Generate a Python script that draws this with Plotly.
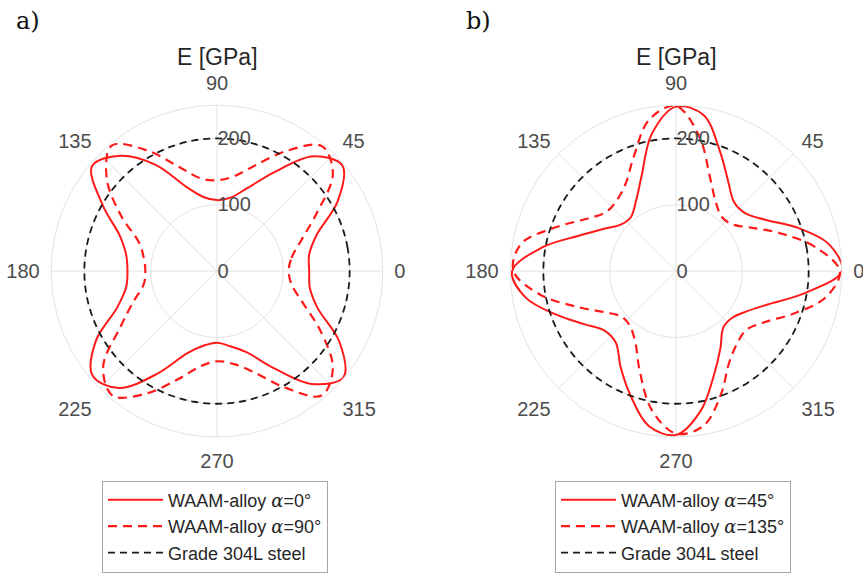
import plotly.graph_objects as go

# Angles (degrees) at which the moduli were read
theta = [0, 10, 20, 30, 40, 50, 60, 70, 80, 90, 100, 110, 120, 130, 140, 150, 160, 170, 180,
         190, 200, 210, 220, 230, 240, 250, 260, 270, 280, 290, 300, 310, 320, 330, 340, 350, 360]

# Panel a) E [GPa]
E_a_alpha0 = [139, 141, 160, 210, 247, 226, 172, 133, 112, 107, 113, 135, 185, 227, 246, 199, 156, 139, 135,
              139, 160, 211, 245, 230, 178, 132, 114, 108, 115, 130, 168, 222, 249, 213, 161, 142, 139]
E_a_alpha90 = [108, 114, 135, 173, 228, 246, 209, 170, 145, 137, 142, 167, 210, 247, 217, 167, 125, 112, 108,
               112, 134, 168, 224, 245, 213, 174, 146, 136, 142, 162, 202, 245, 228, 180, 137, 114, 108]

# Panel b) E [GPa]
E_b_alpha45 = [250, 234, 193, 155, 136, 136, 157, 193, 239, 248, 210, 152, 121, 106, 109, 127, 156, 205, 247,
               230, 192, 160, 140, 141, 167, 200, 237, 247, 214, 167, 134, 111, 110, 122, 147, 195, 250]
E_b_alpha135 = [247, 212, 167, 131, 110, 107, 120, 150, 205, 249, 232, 185, 152, 139, 138, 157, 193, 237, 245,
                207, 158, 124, 107, 108, 123, 160, 212, 245, 237, 198, 160, 143, 138, 154, 188, 229, 247]

# Grade 304L steel (isotropic)
E_steel = 200
E_steel_series = [E_steel] * len(theta)

angle_ticks = [0, 45, 90, 135, 180, 225, 270, 315]
radial_ticks = [0, 100, 200]
r_max = 250

ALPHA = "<span style=\"font-family:'DejaVu Serif'\"><i>α</i></span>"
names_a = [f"WAAM-alloy {ALPHA}=0°", f"WAAM-alloy {ALPHA}=90°", "Grade 304L steel"]
names_b = [f"WAAM-alloy {ALPHA}=45°", f"WAAM-alloy {ALPHA}=135°", "Grade 304L steel"]

RED = "#ff1a1a"
W, H = 863, 573

fig = go.Figure()

def add_panel(sub, leg, r1, r2, names):
    fig.add_trace(go.Scatterpolar(r=r1, theta=theta, mode="lines", name=names[0],
                                  line=dict(color=RED, width=2, shape="spline"),
                                  subplot=sub, legend=leg))
    fig.add_trace(go.Scatterpolar(r=r2, theta=theta, mode="lines", name=names[1],
                                  line=dict(color=RED, width=2.2, shape="spline", dash="9px,6px"),
                                  subplot=sub, legend=leg))
    fig.add_trace(go.Scatterpolar(r=E_steel_series, theta=theta, mode="lines", name=names[2],
                                  line=dict(color="#1a1a1a", width=1.8, shape="spline", dash="7px,5px"),
                                  subplot=sub, legend=leg))

add_panel("polar", "legend", E_a_alpha0, E_a_alpha90, names_a)
add_panel("polar2", "legend2", E_b_alpha45, E_b_alpha135, names_b)

R = 167
cy = 273

def polar_layout(cx):
    return dict(
        domain=dict(x=[(cx - R) / W, (cx + R) / W], y=[1 - (cy + R) / H, 1 - (cy - R) / H]),
        bgcolor="white",
        angularaxis=dict(
            rotation=0, direction="counterclockwise",
            tickmode="array", tickvals=angle_ticks, ticktext=[str(a) for a in angle_ticks],
            ticks="outside", ticklen=7, tickcolor="rgba(0,0,0,0)",
            showline=True, linecolor="#e3e3e3", linewidth=1,
            gridcolor="#e3e3e3", gridwidth=1,
            tickfont=dict(family="Liberation Sans, Arial", size=20, color="#4d4d4d"),
        ),
        radialaxis=dict(
            range=[0, r_max], tickmode="array", tickvals=radial_ticks,
            ticktext=[str(v) for v in radial_ticks],
            angle=90, tickangle=90, showline=False, ticks="",
            gridcolor="#e3e3e3", gridwidth=1,
            tickfont=dict(family="Liberation Sans, Arial", size=20, color="#4d4d4d"),
        ),
    )

legend_style = dict(
    bgcolor="white", bordercolor="#a6a6a6", borderwidth=1,
    font=dict(family="Liberation Sans, Arial", size=18, color="#262626"),
    xanchor="left", yanchor="top", itemwidth=55, tracegroupgap=0,
    itemclick=False,
)

fig.update_layout(
    width=W, height=H, autosize=False,
    margin=dict(l=0, r=0, t=0, b=0),
    paper_bgcolor="white", plot_bgcolor="white",
    showlegend=True,
    polar=polar_layout(217),
    polar2=polar_layout(676),
    legend=dict(x=102 / W, y=1 - 484 / H, **legend_style),
    legend2=dict(x=555 / W, y=1 - 484 / H, **legend_style),
    annotations=[
        dict(text="E [GPa]", x=217 / W, y=1 - 57 / H, xref="paper", yref="paper",
             showarrow=False, xanchor="center", yanchor="middle",
             font=dict(family="Liberation Sans, Arial", size=23, color="#262626")),
        dict(text="E [GPa]", x=676 / W, y=1 - 57 / H, xref="paper", yref="paper",
             showarrow=False, xanchor="center", yanchor="middle",
             font=dict(family="Liberation Sans, Arial", size=23, color="#262626")),
        dict(text="a)", x=28 / W, y=1 - 21 / H, xref="paper", yref="paper",
             showarrow=False, xanchor="center", yanchor="middle",
             font=dict(family="DejaVu Serif, Liberation Serif", size=24, color="#111111")),
        dict(text="b)", x=478 / W, y=1 - 21 / H, xref="paper", yref="paper",
             showarrow=False, xanchor="center", yanchor="middle",
             font=dict(family="DejaVu Serif, Liberation Serif", size=24, color="#111111")),
    ],
)

fig.write_html("out.html", config={"displayModeBar": False},
               post_script="document.body.style.margin='0px';")
